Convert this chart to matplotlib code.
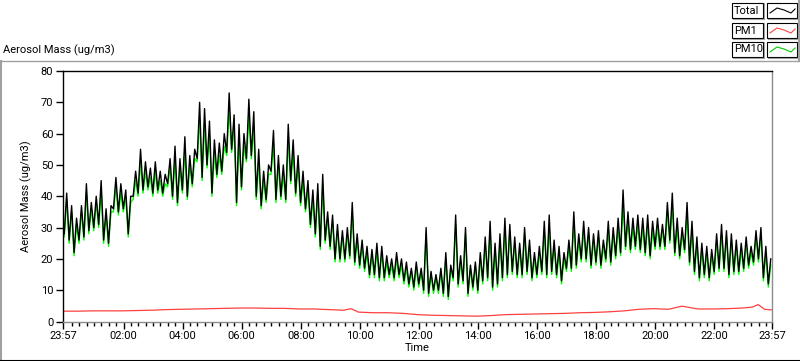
#!/usr/bin/env python3

import numpy as np
import matplotlib
matplotlib.use("Agg")
import matplotlib.pyplot as plt
from matplotlib.patches import Rectangle
from matplotlib.lines import Line2D

plt.rcParams['font.family'] = ['Roboto', 'DejaVu Sans']

# total mass, read per 10-minute bin from 23:57 (min and max of the trace in each bin)
total_hi = [41, 37, 33, 37, 44, 38, 40, 45, 36, 37,
            46, 44, 42, 40, 48, 55, 51, 49, 51, 48,
            47, 52, 56, 52, 59, 53, 55, 70, 68, 64,
            58, 57, 60, 73, 66, 63, 60, 71, 67, 55,
            48, 50, 61, 53, 50, 63, 58, 53, 48, 45,
            42, 44, 47, 35, 34, 31, 29, 30, 38, 28,
            26, 24, 23, 25, 24, 21, 20, 22, 20, 19,
            17, 19, 17, 30, 16, 15, 17, 22, 18, 34,
            21, 30, 18, 19, 22, 27, 32, 25, 28, 33,
            31, 27, 25, 30, 26, 22, 24, 32, 34, 26,
            24, 22, 26, 35, 28, 32, 30, 28, 29, 26,
            32, 30, 33, 42, 35, 33, 34, 33, 34, 32,
            33, 31, 38, 41, 33, 30, 38, 32, 27, 25,
            24, 23, 28, 31, 29, 28, 26, 25, 27, 24,
            29, 30, 24, 20]
total_lo = [28, 26, 22, 26, 27, 29, 30, 31, 26, 25,
            36, 35, 36, 28, 40, 41, 42, 43, 41, 42,
            41, 44, 40, 38, 42, 40, 44, 52, 46, 50,
            41, 47, 48, 54, 55, 38, 43, 52, 53, 40,
            37, 39, 48, 39, 40, 39, 45, 41, 38, 36,
            31, 28, 24, 26, 24, 20, 20, 20, 21, 19,
            18, 17, 15, 15, 14, 14, 15, 14, 15, 13,
            12, 11, 12, 10, 9, 10, 10, 9, 8, 14,
            12, 13, 9, 11, 10, 13, 14, 11, 12, 14,
            15, 16, 15, 15, 16, 14, 15, 16, 15, 16,
            15, 13, 17, 17, 18, 20, 20, 18, 19, 18,
            20, 19, 21, 22, 24, 23, 24, 23, 22, 21,
            24, 24, 24, 26, 22, 21, 23, 19, 16, 14,
            15, 14, 16, 17, 17, 15, 16, 16, 17, 18,
            19, 20, 14, 12]

# PM10 sits just under the total trace
pm10_hi = [39, 35, 31, 35, 41, 36, 38, 42, 34, 35,
           43, 41, 40, 38, 45, 51, 48, 46, 48, 45,
           44, 49, 52, 49, 55, 50, 52, 65, 63, 60,
           54, 53, 56, 68, 62, 59, 56, 66, 62, 51,
           45, 47, 57, 50, 47, 58, 54, 50, 45, 42,
           39, 41, 44, 33, 32, 29, 27, 28, 35, 26,
           24, 22, 21, 23, 22, 19, 18, 20, 18, 17,
           16, 17, 16, 28, 15, 14, 16, 20, 17, 31,
           19, 28, 17, 18, 20, 25, 29, 23, 26, 30,
           29, 25, 23, 28, 24, 20, 22, 29, 31, 24,
           22, 20, 24, 32, 26, 29, 28, 26, 27, 24,
           29, 28, 30, 38, 32, 30, 31, 30, 31, 29,
           30, 29, 35, 37, 30, 28, 35, 29, 25, 23,
           22, 21, 26, 28, 27, 26, 24, 23, 25, 22,
           27, 28, 22, 18]
pm10_lo = [27, 25, 21, 25, 26, 28, 29, 30, 25, 24,
           35, 34, 35, 27, 39, 40, 41, 42, 40, 41,
           40, 43, 39, 37, 41, 39, 43, 51, 45, 49,
           40, 46, 47, 53, 54, 37, 42, 51, 52, 39,
           36, 38, 47, 38, 39, 38, 44, 40, 37, 35,
           30, 27, 23, 25, 23, 19, 19, 19, 20, 18,
           17, 16, 14, 14, 13, 13, 14, 13, 14, 12,
           11, 10, 11, 9, 8, 9, 9, 8, 7, 13,
           11, 12, 8, 10, 9, 12, 13, 10, 11, 13,
           14, 15, 14, 14, 15, 13, 14, 15, 14, 15,
           14, 12, 16, 16, 17, 19, 19, 17, 18, 17,
           19, 18, 20, 21, 23, 22, 23, 22, 21, 20,
           23, 23, 23, 25, 21, 20, 22, 18, 15, 13,
           14, 13, 15, 16, 16, 14, 15, 15, 16, 17,
           18, 19, 13, 11]

pm1_minutes = [0, 30, 60, 90, 120, 150, 180, 210, 240, 270, 300, 330, 360, 390,
               420, 450, 480, 510, 540, 570, 585, 600, 630, 660, 690, 720, 750,
               780, 810, 840, 870, 900, 930, 960, 990, 1020, 1050, 1080, 1110,
               1140, 1170, 1200, 1230, 1257, 1290, 1320, 1350, 1380, 1400, 1412,
               1425, 1440]
pm1_values = [3.3, 3.3, 3.4, 3.4, 3.4, 3.5, 3.6, 3.8, 3.9, 4.0, 4.1, 4.2, 4.3, 4.3,
              4.2, 4.2, 4.0, 4.0, 3.8, 3.6, 4.1, 3.0, 2.8, 2.8, 2.6, 2.2, 2.0,
              1.9, 1.8, 1.7, 1.9, 2.2, 2.3, 2.4, 2.5, 2.6, 2.8, 2.9, 3.1,
              3.4, 3.9, 4.1, 3.9, 4.9, 4.0, 4.0, 4.1, 4.3, 4.6, 5.4,
              3.9, 3.7]

tick_minutes = [0, 123, 243, 363, 483, 603, 723, 843, 963, 1083, 1203, 1323, 1440]
tick_labels = ['23:57', '02:00', '04:00', '06:00', '08:00', '10:00', '12:00',
               '14:00', '16:00', '18:00', '20:00', '22:00', '23:57']

W, H = 800, 361
fig = plt.figure(figsize=(W / 100, H / 100), dpi=100)
ax = fig.add_axes([63 / W, 1 - 321.5 / H, 709 / W, 250.5 / H])


def zigzag(lo, hi):
	t = np.arange(len(lo)) * 10.0
	xs = np.column_stack([t + 2.5, t + 7.5]).ravel()
	ys = np.column_stack([lo, hi]).ravel()
	return xs, ys


gx, gy = zigzag(pm10_lo, pm10_hi)
ax.plot(gx, gy, color='#00ff00', lw=1.0)
bx, by = zigzag(total_lo, total_hi)
ax.plot(bx, by, color='black', lw=1.0)
ax.plot(pm1_minutes, pm1_values, color='#ff4040', lw=0.9)

ax.set_xlim(0, 1440)
ax.set_ylim(0, 80)
ax.set_yticks(range(0, 81, 10))
ax.set_xticks(tick_minutes)
ax.set_xticklabels(tick_labels)
ax.set_xticks(np.arange(18, 1440, 15), minor=True)
ax.tick_params(axis='both', which='major', direction='out', length=5, width=1,
               labelsize=8, pad=2)
ax.tick_params(axis='x', which='minor', direction='out', length=3, width=1)
ax.tick_params(axis='y', which='minor', left=False)

for side in ['top', 'left']:
	ax.spines[side].set_color('black')
for side in ['bottom', 'right']:
	ax.spines[side].set_color('#8c8c8c')
for s in ax.spines.values():
	s.set_linewidth(1)

ax.set_xlabel('Time', fontsize=8, labelpad=1)
ax.set_ylabel('Aerosol Mass (ug/m3)', fontsize=8, labelpad=6)

fig.text(3 / W, 1 - 50 / H, 'Aerosol Mass (ug/m3)', fontsize=8, ha='left', va='center')


def px(x, y):
	return x / W, 1 - y / H


# frame around the graph panel
fig.add_artist(Line2D([0, 1], [1 - 61 / H] * 2, color='#a0a0a0', lw=1))
fig.add_artist(Line2D([0.5 / W] * 2, [0, 1 - 61 / H], color='#a0a0a0', lw=1.5))
fig.add_artist(Line2D([0, 1], [0.5 / H] * 2, color='black', lw=1.5))
fig.add_artist(Line2D([1 - 1 / W] * 2, [1 - 61 / H, 1], color='#a0a0a0', lw=1.5))

# plot legend, top right
legend_names = ['Total', 'PM1', 'PM10']
legend_colors = ['black', '#ff4040', '#00cc00']
row_tops = [3, 23, 42]
for name, col, top in zip(legend_names, legend_colors, row_tops):
	for x0, x1 in [(732, 763), (767, 797)]:
		l, b = px(x0, top + 15)
		fig.add_artist(Rectangle((l, b), (x1 - x0) / W, 15 / H, fill=True,
		                         facecolor='white', edgecolor='black', lw=0.8))
		fig.add_artist(Line2D([px(x0 + 1, 0)[0], px(x1 + 1, 0)[0], px(x1 + 1, 0)[0]],
		                      [px(0, top + 16)[1], px(0, top + 16)[1], px(0, top)[1]],
		                      color='#a0a0a0', lw=0.8))
	fig.text(px(734, 0)[0], px(0, top + 7.5)[1], name, fontsize=8, ha='left', va='center')
	sx = [770, 777, 784, 791, 795]
	sy = [top + 10, top + 5, top + 7, top + 10, top + 6]
	fig.add_artist(Line2D([px(v, 0)[0] for v in sx], [px(0, v)[1] for v in sy],
	                      color=col, lw=0.8))

fig.savefig('out.png', dpi=100)
